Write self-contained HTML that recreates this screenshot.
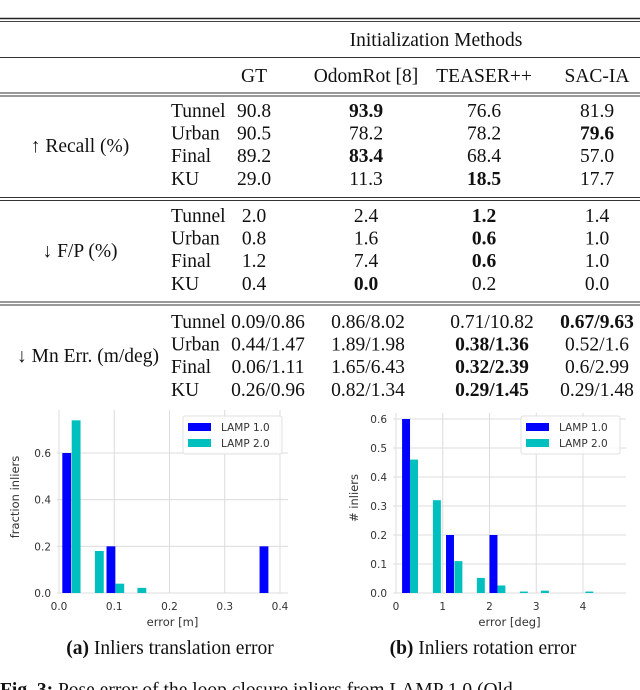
<!DOCTYPE html>
<html><head><meta charset="utf-8"><style>
html,body{margin:0;padding:0;background:#fff;width:640px;height:690px;overflow:hidden}
svg{display:block}
.t{font-family:"Liberation Serif",serif;font-size:19.5px;fill:#111}
.b{font-weight:bold}
.tk{font-family:"DejaVu Sans",sans-serif;font-size:10.5px;fill:#333}
.al{font-family:"DejaVu Sans",sans-serif;font-size:11.5px;fill:#333}
</style></head><body>
<svg id="s" width="640" height="690" xmlns="http://www.w3.org/2000/svg">
<g>
<line x1="0" y1="18.5" x2="640" y2="18.5" stroke="#222" stroke-width="1.5"/>
<line x1="0" y1="21.5" x2="640" y2="21.5" stroke="#444" stroke-width="1"/>
<text class="t" x="436" y="46" text-anchor="middle">Initialization Methods</text>
<line x1="0" y1="57.5" x2="640" y2="57.5" stroke="#333" stroke-width="1"/>
<g text-anchor="middle" class="t">
<text x="254" y="82">GT</text><text x="366" y="82">OdomRot [8]</text><text x="484" y="82">TEASER++</text><text x="597" y="82">SAC-IA</text>
</g>
<line x1="0" y1="93" x2="640" y2="93" stroke="#333" stroke-width="1"/>
<line x1="0" y1="96" x2="640" y2="96" stroke="#333" stroke-width="1"/>
<line x1="0" y1="197.5" x2="640" y2="197.5" stroke="#333" stroke-width="1"/>
<line x1="0" y1="200.5" x2="640" y2="200.5" stroke="#333" stroke-width="1"/>
<line x1="0" y1="302" x2="640" y2="302" stroke="#333" stroke-width="1"/>
<line x1="0" y1="305" x2="640" y2="305" stroke="#333" stroke-width="1"/>
<g id="tbody"></g>
</g>
<g id="chartA"></g>
<g id="chartB"></g>
<text class="t" x="170" y="654" text-anchor="middle"><tspan class="b">(a)</tspan> Inliers translation error</text>
<text class="t" x="483" y="654" text-anchor="middle"><tspan class="b">(b)</tspan> Inliers rotation error</text>
<text class="t" x="0" y="696" style="font-size:19.5px"><tspan class="b">Fig. 3:</tspan> Pose error of the loop closure inliers from LAMP 1.0 (Old</text>
</svg>
<script>
const NS="http://www.w3.org/2000/svg";
function mk(tag,attrs,parent,text){const e=document.createElementNS(NS,tag);for(const k in attrs)e.setAttribute(k,attrs[k]);if(text!==undefined)e.textContent=text;parent.appendChild(e);return e;}
// ---- table ----
const groups=[
 {label:"↑ Recall (%)",cy:146,rows:[["Tunnel","90.8","*93.9","76.6","81.9"],["Urban","90.5","78.2","78.2","*79.6"],["Final","89.2","*83.4","68.4","57.0"],["KU","29.0","11.3","*18.5","17.7"]],y0:111},
 {label:"↓ F/P (%)",cy:251,rows:[["Tunnel","2.0","2.4","*1.2","1.4"],["Urban","0.8","1.6","*0.6","1.0"],["Final","1.2","7.4","*0.6","1.0"],["KU","0.4","*0.0","0.2","0.0"]],y0:216},
 {label:"↓ Mn Err. (m/deg)",cy:356,rows:[["Tunnel","0.09/0.86","0.86/8.02","0.71/10.82","*0.67/9.63"],["Urban","0.44/1.47","1.89/1.98","*0.38/1.36","0.52/1.6"],["Final","0.06/1.11","1.65/6.43","*0.32/2.39","0.6/2.99"],["KU","0.26/0.96","0.82/1.34","*0.29/1.45","0.29/1.48"]],y0:322}
];
const colX=[254,366,484,597];
const mnX=[268,368,492,597];
const tb=document.getElementById('tbody');
groups.forEach(g=>{
 const lab=mk('text',{class:'t',x:(g.label.startsWith('↓ Mn')?88:80),y:g.cy+6,'text-anchor':'middle'},tb,g.label);
 
 
 g.rows.forEach((r,i)=>{
  const y=g.y0+i*22.6+6;
  const sl=mk('text',{class:'t',x:171,y:y},tb,r[0]);
  
  
  for(let c=1;c<5;c++){let v=r[c],bold=v[0]==='*';if(bold)v=v.slice(1);
   const x=g.label.startsWith('↓ Mn')?mnX[c-1]:colX[c-1];
   const t=mk('text',{class:'t'+(bold?' b':''),x:x,y:y,'text-anchor':'middle'},tb,v);
   
   }
 });
});
// ---- charts ----
const transL1X=[0.006,0.086,0.363];
const transL1Y=[0.6,0.2,0.2];
const transL2X=[0.023,0.065,0.102,0.142];
const transL2Y=[0.74,0.18,0.04,0.022];
const transXTicks=[0.0,0.1,0.2,0.3,0.4];
const transYTicks=[0.0,0.2,0.4,0.6];
const rotL1X=[0.13,1.07,2.0];
const rotL1Y=[0.6,0.2,0.2];
const rotL2X=[0.30,0.79,1.25,1.73,2.17,2.65,3.1,4.05];
const rotL2Y=[0.46,0.32,0.11,0.052,0.026,0.005,0.008,0.005];
const rotXTicks=[0,1,2,3,4];
const rotYTicks=[0.0,0.1,0.2,0.3,0.4,0.5,0.6];
function chart(g,o){
 const sx=v=>o.px0+(v-o.x0)*o.kx, sy=v=>o.py0-(v)*o.ky;
 mk('rect',{x:o.left,y:o.top,width:o.right-o.left,height:o.py0-o.top,fill:'#fff'},g);
 o.xt.forEach(v=>{mk('line',{x1:sx(v),x2:sx(v),y1:o.top,y2:o.py0,stroke:'#dcdcdc','stroke-width':1},g);
  const t=mk('text',{class:'tk',x:sx(v),y:o.py0+17,'text-anchor':'middle'},g,o.fmtx(v));
  
  });
 o.yt.forEach(v=>{mk('line',{x1:o.left,x2:o.right,y1:sy(v),y2:sy(v),stroke:'#dcdcdc','stroke-width':1},g);
  const t=mk('text',{class:'tk',x:o.left-6,y:sy(v)+4,'text-anchor':'end'},g,v.toFixed(1));
  
  });
 const series=[[o.s1x,o.s1y,'#0000ff'],[o.s2x,o.s2y,'#00bfbf']];
 series.forEach(s=>s[0].forEach((x,i)=>{
  const r=mk('rect',{x:sx(x),y:sy(s[1][i]),width:sx(x+o.bw)-sx(x),height:o.py0-sy(s[1][i]),fill:s[2]},g);
  
  }));
 const xl=mk('text',{class:'al',x:(o.left+o.right)/2,y:o.py0+33,'text-anchor':'middle'},g,o.xlab);
 
 
 const yl=mk('text',{class:'al',x:0,y:0,'text-anchor':'middle',transform:`translate(${o.ylx},${o.yly}) rotate(-90)`},g,o.ylab);
 
 
 const lg=mk('g',{},g);
 
 
 mk('rect',{x:o.lx,y:o.ly,width:o.lw,height:38,fill:'#fff','fill-opacity':0.85,stroke:'#e0e0e0',rx:2},lg);
 mk('rect',{x:o.lx+5,y:o.ly+7,width:23,height:8,fill:'#0000ff'},lg);
 mk('rect',{x:o.lx+5,y:o.ly+23,width:23,height:8,fill:'#00bfbf'},lg);
 mk('text',{class:'tk',x:o.lx+38,y:o.ly+15},lg,'LAMP 1.0');
 mk('text',{class:'tk',x:o.lx+38,y:o.ly+31},lg,'LAMP 2.0');
}
chart(document.getElementById('chartA'),{left:57,right:288,top:410,px0:59,x0:0,kx:221/0.4,py0:593,ky:140/0.6,
 xt:transXTicks,yt:transYTicks,fmtx:v=>v.toFixed(1),s1x:transL1X,s1y:transL1Y,s2x:transL2X,s2y:transL2Y,bw:0.016,
 xlab:'error [m]',ylab:'fraction inliers',ylx:19,yly:497,lx:183,ly:416,lw:99});
chart(document.getElementById('chartB'),{left:393,right:626,top:413,px0:396,x0:0,kx:187/4,py0:593,ky:174/0.6,
 xt:rotXTicks,yt:rotYTicks,fmtx:v=>String(v),s1x:rotL1X,s1y:rotL1Y,s2x:rotL2X,s2y:rotL2Y,bw:0.17,
 xlab:'error [deg]',ylab:'# inliers',ylx:358,yly:498,lx:521,ly:416,lw:99});
</script>
</body></html>
